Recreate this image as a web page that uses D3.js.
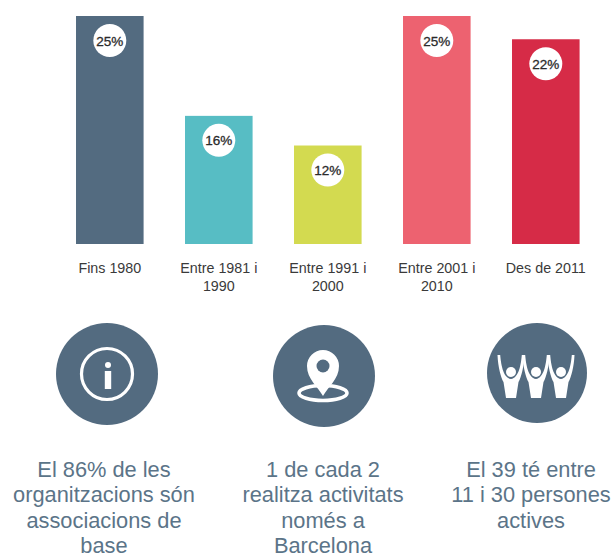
<!DOCTYPE html>
<html lang="ca">
<head>
<meta charset="UTF-8">
<title>Organitzacions</title>
<script src="https://d3js.org/d3.v7.min.js"></script>
<style>
  html, body { margin: 0; padding: 0; background: #fff; overflow: hidden; }
  svg { display: block; font-family: "Liberation Sans", Arial, sans-serif; }
</style>
</head>
<body>
<svg id="chart" width="616" height="558"></svg>
<script>
var categories = ["Fins 1980", "Entre 1981 i 1990", "Entre 1991 i 2000", "Entre 2001 i 2010", "Des de 2011"];
// printed labels
var labels = [25, 16, 12, 25, 22];
// bar lengths as drawn, they are not quite proportional to the labels
var barValues = [25, 14.05, 10.8, 25, 22.45];
var barColors = ["#536b80", "#57bdc4", "#d3da50", "#ed6270", "#d62b47"];
var catLines = [["Fins 1980"], ["Entre 1981 i", "1990"], ["Entre 1991 i", "2000"], ["Entre 2001 i", "2010"], ["Des de 2011"]];

var notes = [
  ["El 86% de les", "organitzacions són", "associacions de", "base"],
  ["1 de cada 2", "realitza activitats", "només a", "Barcelona"],
  ["El 39 té entre", "11 i 30 persones", "actives"]
];
var noteX = [104, 323, 531];
var iconPos = [[107, 374, 51], [324, 376, 51], [537, 373, 50]];

var svg = d3.select("#chart");

var x = d3.scaleBand().domain(categories).range([55.3, 600.3]).paddingInner(0.38).paddingOuter(0.19);
var y = d3.scaleLinear().domain([0, 25]).range([244, 16]);

// bars
svg.selectAll("rect.bar")
  .data(categories)
  .enter().append("rect")
  .attr("class", "bar")
  .attr("x", function(d) { return x(d); })
  .attr("width", x.bandwidth())
  .attr("y", function(d, i) { return y(barValues[i]); })
  .attr("height", function(d, i) { return y(0) - y(barValues[i]); })
  .attr("fill", function(d, i) { return barColors[i]; });

// white badges
svg.selectAll("circle.badge")
  .data(categories)
  .enter().append("circle")
  .attr("class", "badge")
  .attr("cx", function(d) { return x(d) + x.bandwidth() / 2; })
  .attr("cy", function(d, i) { return y(barValues[i]) + 24.5; })
  .attr("r", 16.5)
  .attr("fill", "#fff");

svg.selectAll("text.pct")
  .data(categories)
  .enter().append("text")
  .attr("class", "pct")
  .attr("x", function(d) { return x(d) + x.bandwidth() / 2; })
  .attr("y", function(d, i) { return y(barValues[i]) + 29.5; })
  .attr("text-anchor", "middle")
  .attr("font-size", 13.5)
  .attr("stroke", "#2b2b2b")
  .attr("stroke-width", 0.3)
  .attr("fill", "#2b2b2b")
  .text(function(d, i) { return labels[i] + "%"; });

// x axis, only the labels are visible
var axis = svg.append("g")
  .attr("transform", "translate(0,244)")
  .call(d3.axisBottom(x).tickSize(0));
axis.select(".domain").remove();
axis.selectAll(".tick text").remove();
axis.selectAll(".tick").each(function(d, i) {
  var t = d3.select(this).append("text")
    .attr("text-anchor", "middle")
    .attr("font-family", "Liberation Sans, Arial, sans-serif")
    .attr("font-size", 14.3)
    .attr("fill", "#3a3a3a");
  catLines[i].forEach(function(line, j) {
    t.append("tspan").attr("x", 0).attr("y", 28.5 + j * 18.5).text(line);
  });
});

// icons
var slate = "#536b80";
var icons = svg.selectAll("g.icon")
  .data(iconPos)
  .enter().append("g")
  .attr("class", "icon")
  .attr("transform", function(d) { return "translate(" + d[0] + "," + d[1] + ")"; });
icons.append("circle")
  .attr("r", function(d) { return d[2]; })
  .attr("fill", slate);

// info
var info = d3.select(icons.nodes()[0]);
info.append("circle").attr("r", 25.5).attr("fill", "none").attr("stroke", "#fff").attr("stroke-width", 3.2);
info.append("circle").attr("cx", 1).attr("cy", -9).attr("r", 3).attr("fill", "#fff");
info.append("rect").attr("x", -2.2).attr("y", -3).attr("width", 6.4).attr("height", 18).attr("fill", "#fff");

// pin
var pin = d3.select(icons.nodes()[1]);
pin.append("ellipse").attr("cx", -1).attr("cy", 17).attr("rx", 24).attr("ry", 7.5)
  .attr("fill", "none").attr("stroke", "#fff").attr("stroke-width", 3.6);
pin.append("path")
  .attr("d", "M-1,20 C-6,11 -17,3 -17,-10 A16,16 0 1 1 15,-10 C15,3 4,11 -1,20 Z")
  .attr("fill", "#fff");
pin.append("circle").attr("cx", -1).attr("cy", -10).attr("r", 6.5).attr("fill", slate);

// people
var people = d3.select(icons.nodes()[2]);
[-26, -1, 24].forEach(function(dx) {
  var p = people.append("g").attr("transform", "translate(" + dx + ",0)");
  p.append("path")
    .attr("d", "M-13.5,-18 L-10.8,-18 C-10,-9 -8,5 0,6 C8,5 10,-9 10.8,-18 L13.5,-18 C13,-6 10,5 7.5,9 L5,25 L-5,25 L-7.5,9 C-10,5 -13,-6 -13.5,-18 Z")
    .attr("fill", "#fff");
  p.append("circle").attr("cy", -1).attr("r", 5).attr("fill", "#fff");
});

// texts under the icons
notes.forEach(function(lines, i) {
  svg.append("text")
    .attr("text-anchor", "middle")
    .attr("font-size", 21.8)
    .attr("fill", "#5b7488")
    .selectAll("tspan")
    .data(lines)
    .enter().append("tspan")
    .attr("x", noteX[i])
    .attr("y", function(d, j) { return 476.5 + j * 25.6; })
    .text(function(d) { return d; });
});
</script>
</body>
</html>
